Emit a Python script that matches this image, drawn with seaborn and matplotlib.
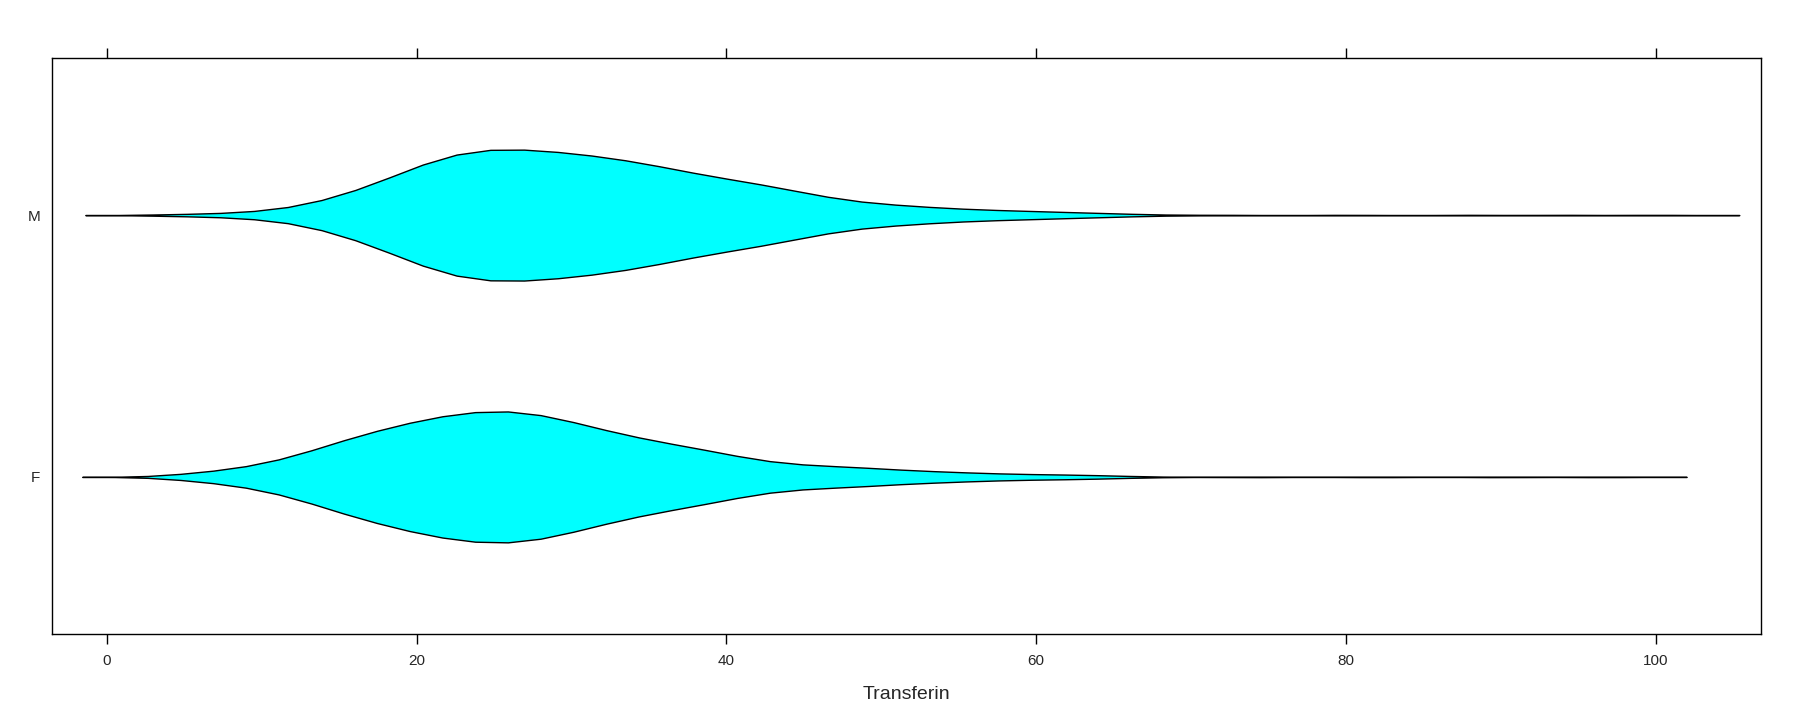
import numpy as np
import pandas as pd
import seaborn as sns
import matplotlib.pyplot as plt

# values (value, how many at that value)
m_values = [4, 6, 8, 10, 12, 14, 16, 18, 20, 22, 24, 26, 28, 30, 32, 34, 36, 38,
            40, 42, 44, 46, 48, 50, 52, 54, 56, 58, 60, 62, 64, 66, 68,
            72, 80, 88, 94, 100]
m_counts = [2, 2, 4, 7, 13, 25, 41, 61, 84, 103, 113, 114, 111, 106, 100, 92, 82, 71,
            62, 54, 44, 33, 24, 19, 16, 12, 10, 8, 7, 5, 4, 2, 1,
            1, 1, 1, 1, 1]

f_values = [3.8, 5.5, 7, 9, 11, 13, 15, 17, 19, 21, 23, 25, 27, 29, 31, 33, 35, 37,
            39, 41, 43, 45, 47, 49, 51, 53, 55, 57, 59, 61, 63, 65, 67,
            74, 82, 90, 96.6]
f_counts = [2, 5, 9, 17, 27, 42, 60, 75, 88, 100, 108, 113, 110, 100, 86, 73, 62, 53,
            44, 33, 24, 20, 18, 16, 12, 10, 8, 6, 5, 4, 4, 2, 1,
            1, 1, 1, 1]

sexes = ["M", "F"]
BW = 1.8

df = pd.DataFrame({
    "Transferin": np.concatenate([np.repeat(m_values, m_counts), np.repeat(f_values, f_counts)]),
    "sex": ["M"] * sum(m_counts) + ["F"] * sum(f_counts),
})

sns.set_style("white")
plt.rcParams['font.family'] = ['Liberation Sans', 'DejaVu Sans']

fig = plt.figure(figsize=(18, 7.2), dpi=100)
ax = fig.add_axes([52 / 1800, 1 - 634 / 720, (1761 - 52) / 1800, (634 - 58) / 720])

sns.violinplot(data=df, x="Transferin", y="sex", order=sexes, orient="h",
               color="cyan", saturation=1, inner=None, cut=3, gridsize=50,
               bw_method=lambda k: BW / np.std(k.dataset, ddof=1),
               density_norm="width", width=0.5, linecolor="black", linewidth=1.0,
               ax=ax)

ax.set_xlim(-3.55, 106.8)
ax.set_ylim(1.6, -0.6)
ax.set_xticks([0, 20, 40, 60, 80, 100])
ax.set_xlabel("Transferin", fontsize=14, labelpad=13)
ax.set_ylabel("")
ax.tick_params(axis="x", top=True, bottom=True, labeltop=False, direction="out",
               length=7, width=1, labelsize=11, pad=7.5, color="black")
ax.tick_params(axis="y", left=False, labelsize=11, pad=5)
for s in ax.spines.values():
    s.set_visible(True)
    s.set_color("black")
    s.set_linewidth(1)

fig.savefig("out.png", dpi=100)
